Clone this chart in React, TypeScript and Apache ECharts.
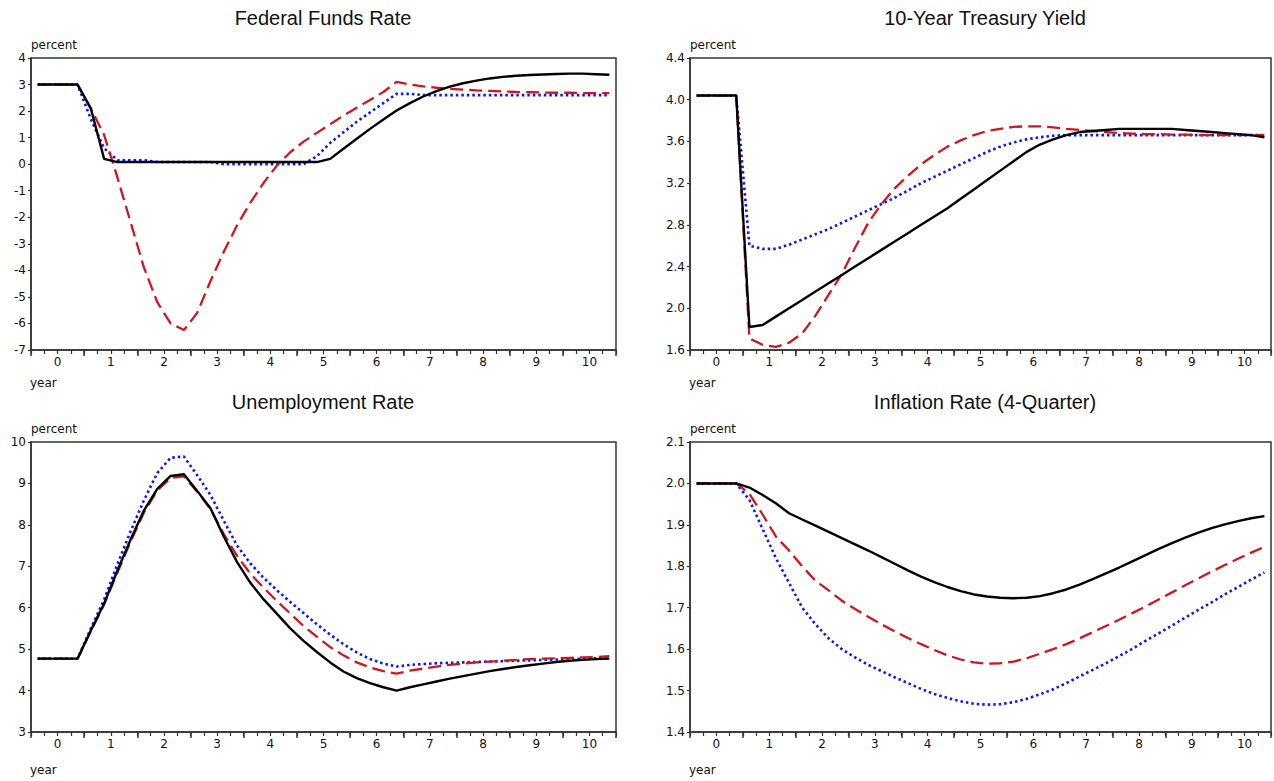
import React, { useEffect, useRef } from 'react';
import * as echarts from 'echarts';

// quarter mid-points (years)
const quarters = [-0.375, -0.125, 0.125, 0.375, 0.625, 0.875, 1.125, 1.375, 1.625, 1.875, 2.125, 2.375, 2.625, 2.875, 3.125, 3.375, 3.625, 3.875, 4.125, 4.375, 4.625, 4.875, 5.125, 5.375, 5.625, 5.875, 6.125, 6.375, 6.625, 6.875, 7.125, 7.375, 7.625, 7.875, 8.125, 8.375, 8.625, 8.875, 9.125, 9.375, 9.625, 9.875, 10.125, 10.375];

const titles = ['Federal Funds Rate', '10-Year Treasury Yield', 'Unemployment Rate', 'Inflation Rate (4-Quarter)'];

// Federal Funds Rate
const ffrBlack = [3.0, 3.0, 3.0, 3.0, 2.1, 0.2, 0.08, 0.08, 0.08, 0.08, 0.08, 0.08, 0.08, 0.08, 0.08, 0.08, 0.08, 0.08, 0.08, 0.08, 0.08, 0.08, 0.2, 0.58, 0.96, 1.33, 1.68, 2.02, 2.3, 2.55, 2.75, 2.92, 3.05, 3.15, 3.23, 3.29, 3.33, 3.36, 3.38, 3.4, 3.41, 3.41, 3.39, 3.37];
const ffrRed = [3.0, 3.0, 3.0, 3.0, 2.1, 1.1, -0.5, -2.2, -3.9, -5.2, -6.0, -6.25, -5.6, -4.4, -3.3, -2.3, -1.45, -0.7, -0.05, 0.45, 0.85, 1.18, 1.5, 1.83, 2.13, 2.42, 2.72, 3.1, 3.0, 2.93, 2.88, 2.84, 2.81, 2.78, 2.76, 2.74, 2.72, 2.71, 2.7, 2.69, 2.69, 2.68, 2.68, 2.68];
const ffrBlue = [3.0, 3.0, 3.0, 3.0, 1.7, 0.6, 0.15, 0.15, 0.15, 0.08, 0.08, 0.08, 0.08, 0.08, 0.0, 0.0, 0.0, 0.0, 0.0, 0.0, 0.0, 0.3, 0.8, 1.2, 1.6, 1.95, 2.3, 2.65, 2.65, 2.6, 2.6, 2.6, 2.6, 2.6, 2.6, 2.6, 2.6, 2.6, 2.6, 2.6, 2.6, 2.6, 2.6, 2.6];

// 10-Year Treasury Yield
const tyBlack = [4.04, 4.04, 4.04, 4.04, 1.82, 1.84, 1.92, 2.0, 2.08, 2.16, 2.24, 2.32, 2.4, 2.48, 2.56, 2.64, 2.72, 2.8, 2.88, 2.96, 3.05, 3.14, 3.23, 3.32, 3.41, 3.5, 3.57, 3.62, 3.66, 3.69, 3.7, 3.71, 3.72, 3.72, 3.72, 3.72, 3.72, 3.71, 3.7, 3.69, 3.68, 3.67, 3.66, 3.64];
const tyRed = [4.04, 4.04, 4.04, 4.04, 1.71, 1.65, 1.63, 1.67, 1.76, 1.93, 2.13, 2.33, 2.58, 2.82, 3.0, 3.15, 3.27, 3.38, 3.47, 3.55, 3.61, 3.66, 3.7, 3.72, 3.74, 3.745, 3.745, 3.735, 3.72, 3.71, 3.7, 3.69, 3.68, 3.675, 3.67, 3.67, 3.665, 3.665, 3.66, 3.66, 3.66, 3.66, 3.66, 3.66];
const tyBlue = [4.04, 4.04, 4.04, 4.04, 2.6, 2.57, 2.57, 2.61, 2.66, 2.71, 2.76, 2.82, 2.88, 2.94, 3.0, 3.06, 3.13, 3.2, 3.26, 3.32, 3.38, 3.44, 3.5, 3.55, 3.59, 3.62, 3.64, 3.655, 3.66, 3.66, 3.66, 3.66, 3.66, 3.66, 3.66, 3.66, 3.66, 3.66, 3.66, 3.66, 3.66, 3.66, 3.66, 3.66];

// Unemployment Rate
const urBlack = [4.77, 4.77, 4.77, 4.77, 5.45, 6.1, 6.9, 7.65, 8.35, 8.87, 9.18, 9.22, 8.82, 8.4, 7.72, 7.1, 6.6, 6.2, 5.85, 5.5, 5.2, 4.93, 4.68, 4.46, 4.3, 4.18, 4.08, 4.0, 4.08, 4.15, 4.22, 4.29, 4.35, 4.41, 4.47, 4.52, 4.57, 4.61, 4.65, 4.69, 4.72, 4.74, 4.76, 4.77];
const urRed = [4.77, 4.77, 4.77, 4.77, 5.43, 6.08, 6.85, 7.6, 8.3, 8.83, 9.13, 9.17, 8.8, 8.38, 7.78, 7.25, 6.82, 6.48, 6.16, 5.86, 5.56, 5.3, 5.05, 4.85, 4.68, 4.56, 4.47, 4.41, 4.48, 4.53, 4.58, 4.62, 4.65, 4.68, 4.7, 4.72, 4.74, 4.76, 4.77, 4.78, 4.79, 4.8, 4.81, 4.83];
const urBlue = [4.77, 4.77, 4.77, 4.77, 5.5, 6.2, 7.05, 7.85, 8.6, 9.25, 9.62, 9.65, 9.2, 8.72, 8.1, 7.5, 7.07, 6.72, 6.42, 6.14, 5.87, 5.6, 5.35, 5.12, 4.92, 4.76, 4.65, 4.58, 4.62, 4.64, 4.66, 4.67, 4.68, 4.69, 4.7, 4.71, 4.72, 4.73, 4.74, 4.75, 4.76, 4.77, 4.78, 4.79];

// Inflation Rate (4-Quarter)
const infBlack = [2.0, 2.0, 2.0, 2.0, 1.99, 1.972, 1.952, 1.928, 1.913, 1.898, 1.883, 1.868, 1.853, 1.838, 1.822, 1.806, 1.79, 1.775, 1.762, 1.75, 1.74, 1.732, 1.727, 1.724, 1.723, 1.724, 1.728, 1.735, 1.744, 1.756, 1.769, 1.783, 1.797, 1.812, 1.827, 1.842, 1.856, 1.869, 1.881, 1.892, 1.901, 1.909, 1.916, 1.921];
const infRed = [2.0, 2.0, 2.0, 2.0, 1.975, 1.925, 1.872, 1.838, 1.8, 1.765, 1.742, 1.717, 1.697, 1.678, 1.66, 1.643, 1.627, 1.612, 1.598, 1.585, 1.575, 1.568, 1.565, 1.566, 1.57, 1.578, 1.589, 1.6, 1.612, 1.626, 1.641, 1.656, 1.671, 1.687, 1.703, 1.72, 1.737, 1.754, 1.771, 1.787, 1.803, 1.818, 1.833, 1.847];
const infBlue = [2.0, 2.0, 2.0, 2.0, 1.96, 1.89, 1.82, 1.76, 1.7, 1.66, 1.626, 1.6, 1.58, 1.562, 1.547, 1.532, 1.518, 1.504, 1.492, 1.482, 1.474, 1.468, 1.466, 1.467, 1.472, 1.48, 1.491, 1.503, 1.518, 1.534, 1.55, 1.566, 1.583, 1.601, 1.62, 1.638, 1.657, 1.676, 1.695, 1.713, 1.732, 1.75, 1.768, 1.785];

const yMins = [-7, 1.6, 3, 1.4];
const yMaxs = [4, 4.4, 10, 2.1];
const yIntervals = [1, 0.4, 1, 0.1];
const yDecimals = [0, 1, 0, 1];

const panelSeries = [
  [ffrBlue, ffrRed, ffrBlack],
  [tyBlue, tyRed, tyBlack],
  [urBlue, urRed, urBlack],
  [infBlue, infRed, infBlack],
];

const TITLE_FONT = '"Liberation Sans", Arial, sans-serif';
const FONT = '"DejaVu Sans", Verdana, sans-serif';
const AXIS_COLOR = '#333333';
const TEXT_COLOR = '#111111';

export default function App() {
  const ref = useRef<HTMLDivElement>(null);

  useEffect(() => {
    if (!ref.current) return;
    const chart = echarts.init(ref.current, undefined, { renderer: 'svg' });

    const grids = [
      { left: 31, top: 58, width: 585, height: 292 },
      { left: 690, top: 58, width: 583, height: 292 },
      { left: 31, top: 442, width: 585, height: 290 },
      { left: 690, top: 442, width: 583, height: 290 },
    ];

    const xAxes: any[] = [];
    const yAxes: any[] = [];
    const series: any[] = [];
    const graphics: any[] = [];

    grids.forEach((g, i) => {
      // long ticks at year boundaries (half-years on the labelled axis)
      xAxes.push({
        type: 'value', gridIndex: i, position: 'bottom', min: 0, max: 11, interval: 1,
        axisLine: { show: false, onZero: false }, axisLabel: { show: false }, splitLine: { show: false },
        axisTick: { show: true, length: 6, lineStyle: { color: AXIS_COLOR, width: 1.5 } },
      });
      // quarterly ticks and year labels
      xAxes.push({
        type: 'value', gridIndex: i, position: 'bottom', min: -0.5, max: 10.5, interval: 0.25,
        axisLine: { show: true, onZero: false, lineStyle: { color: AXIS_COLOR, width: 1.5 } },
        axisTick: { show: true, length: 4, lineStyle: { color: AXIS_COLOR, width: 1.2 } },
        splitLine: { show: false },
        axisLabel: {
          show: true, margin: 6, fontSize: 12, fontFamily: FONT, color: TEXT_COLOR,
          formatter: (v: number) => (Number.isInteger(v) ? String(v) : ''),
        },
      });
      yAxes.push({
        type: 'value', gridIndex: i, min: yMins[i], max: yMaxs[i], interval: yIntervals[i],
        axisLine: { show: true, onZero: false, lineStyle: { color: AXIS_COLOR, width: 1.5 } },
        axisTick: { show: true, length: 3, lineStyle: { color: AXIS_COLOR, width: 1.2 } },
        splitLine: { show: false },
        axisLabel: {
          margin: 5, fontSize: 12, fontFamily: FONT, color: TEXT_COLOR,
          formatter: (v: number) => v.toFixed(yDecimals[i]),
        },
        name: 'percent', nameLocation: 'end', nameGap: 7,
        nameTextStyle: { align: 'left', fontSize: 12, fontFamily: FONT, color: TEXT_COLOR },
      });

      const [blue, red, black] = panelSeries[i];
      const mk = (vals: number[], color: string, type: any, width: number, z: number) => ({
        type: 'line', xAxisIndex: 2 * i + 1, yAxisIndex: i, showSymbol: false, symbol: 'none',
        z, data: quarters.map((q, k) => [q, vals[k]]),
        lineStyle: { color, width, type, cap: 'butt' },
      });
      series.push(mk(blue, '#0a14ff', [2.5, 3], 2.6, 2));
      series.push(mk(red, '#d0161e', [13, 6], 2.3, 3));
      series.push(mk(black, '#000000', 'solid', 2.4, 4));

      graphics.push({
        type: 'text', x: i % 2 === 0 ? 323 : 985, y: i < 2 ? 18 : 402,
        style: { text: titles[i], font: `20px ${TITLE_FONT}`, fill: '#111', align: 'center', verticalAlign: 'middle' },
      });
      graphics.push({
        type: 'text', x: g.left - 1, y: i < 2 ? 383 : 770,
        style: { text: 'year', font: `12px ${FONT}`, fill: TEXT_COLOR, align: 'left', verticalAlign: 'middle' },
      });
    });

    chart.setOption({
      animation: false,
      backgroundColor: '#ffffff',
      grid: grids.map((g) => ({ ...g, show: true, borderColor: AXIS_COLOR, borderWidth: 1.5, backgroundColor: 'transparent' })),
      xAxis: xAxes,
      yAxis: yAxes,
      series,
      graphic: graphics,
    });

    return () => chart.dispose();
  }, []);

  return <div ref={ref} style={{ position: 'absolute', left: 0, top: 0, width: 1274, height: 781 }} />;
}
